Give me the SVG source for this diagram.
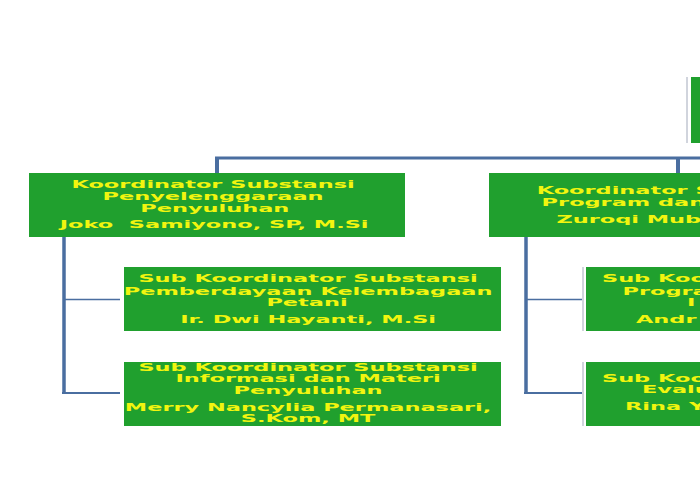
<svg xmlns="http://www.w3.org/2000/svg" width="700" height="495" viewBox="0 0 700 495">
<style>
.box{fill:#20A02E;}
.edge{stroke:#A3AABB;stroke-width:1;fill:none;}
.t{font-family:"DejaVu Sans",Verdana,sans-serif;font-weight:bold;font-size:10.5px;fill:#F2F50F;white-space:pre;}
.m{text-anchor:middle;}
.s{text-anchor:start;}
.c{stroke:#4A6EA0;fill:none;}
</style>
<rect width="700" height="495" fill="#FFFFFF"/>
<g id="connectors">
<path class="c" d="M215,158 H700" stroke-width="3"/>
<path class="c" d="M217,157 V173" stroke-width="4"/>
<path class="c" d="M678,157 V173" stroke-width="4"/>
<path class="c" d="M64,237 V394" stroke-width="3.5"/>
<path class="c" d="M64,299.5 H120" stroke-width="1.5"/>
<path class="c" d="M62,393 H120" stroke-width="2"/>
<path class="c" d="M526,237 V394" stroke-width="3.5"/>
<path class="c" d="M526,299.5 H582" stroke-width="1.5"/>
<path class="c" d="M524,393 H582" stroke-width="2"/>
</g>
<g id="top">
<line class="edge" x1="687" y1="77" x2="687" y2="143"/>
<rect class="box" x="691" y="77" width="20" height="66"/>
</g>
<g id="koord1">
<rect class="box" x="29" y="173" width="376" height="64"/>
<text class="t m" transform="scale(2.14 1)">
<tspan x="101.4" y="188">Koordinator Substansi</tspan>
<tspan x="101.4" y="200">Penyelenggaraan</tspan>
<tspan x="102.2" y="211.7">Penyuluhan</tspan>
<tspan x="101.9" y="227.7">Joko  Samiyono, SP, M.Si</tspan>
</text>
</g>
<g id="koord2">
<rect class="box" x="489" y="173" width="376" height="64"/>
<text class="t s" transform="scale(2.14 1)">
<tspan x="250.8" y="194">Koordinator Substansi</tspan>
<tspan x="253.1" y="205.7">Program dan</tspan>
<tspan x="260" y="222.7">Zuroqi Mub</tspan>
</text>
</g>
<g id="sub1">
<rect class="box" x="124" y="267" width="377" height="64"/>
<text class="t m" transform="scale(2.14 1)">
<tspan x="145.8" y="282.5">Sub Koordinator Substansi</tspan>
<tspan x="145.8" y="295">Pemberdayaan Kelembagaan</tspan>
<tspan x="145.3" y="306.5">Petani</tspan>
<tspan x="145.8" y="322.7">Ir. Dwi Hayanti, M.Si</tspan>
</text>
</g>
<g id="sub2">
<rect class="box" x="124" y="362" width="377" height="64"/>
<text class="t m" transform="scale(2.14 1)">
<tspan x="145.8" y="370.7">Sub Koordinator Substansi</tspan>
<tspan x="145.8" y="382.3">Informasi dan Materi</tspan>
<tspan x="145.8" y="394">Penyuluhan</tspan>
<tspan x="145.8" y="410.7">Merry Nancylia Permanasari,</tspan>
<tspan x="145.8" y="422.3">S.Kom, MT</tspan>
</text>
</g>
<g id="sub3">
<line class="edge" x1="583" y1="267" x2="583" y2="331"/>
<rect class="box" x="586" y="267" width="377" height="64"/>
<text class="t s" transform="scale(2.14 1)">
<tspan x="281.3" y="282.5">Sub Koordinator Substansi</tspan>
<tspan x="290.9" y="295">Program</tspan>
<tspan x="321" y="306">I</tspan>
<tspan x="297.2" y="322.7">Andr</tspan>
</text>
</g>
<g id="sub4">
<line class="edge" x1="583" y1="362" x2="583" y2="426"/>
<rect class="box" x="586" y="362" width="377" height="64"/>
<text class="t s" transform="scale(2.14 1)">
<tspan x="281.3" y="382">Sub Koordinator Substansi</tspan>
<tspan x="300" y="393.5">Evaluasi</tspan>
<tspan x="292.1" y="410.5">Rina Y</tspan>
</text>
</g>
</svg>
